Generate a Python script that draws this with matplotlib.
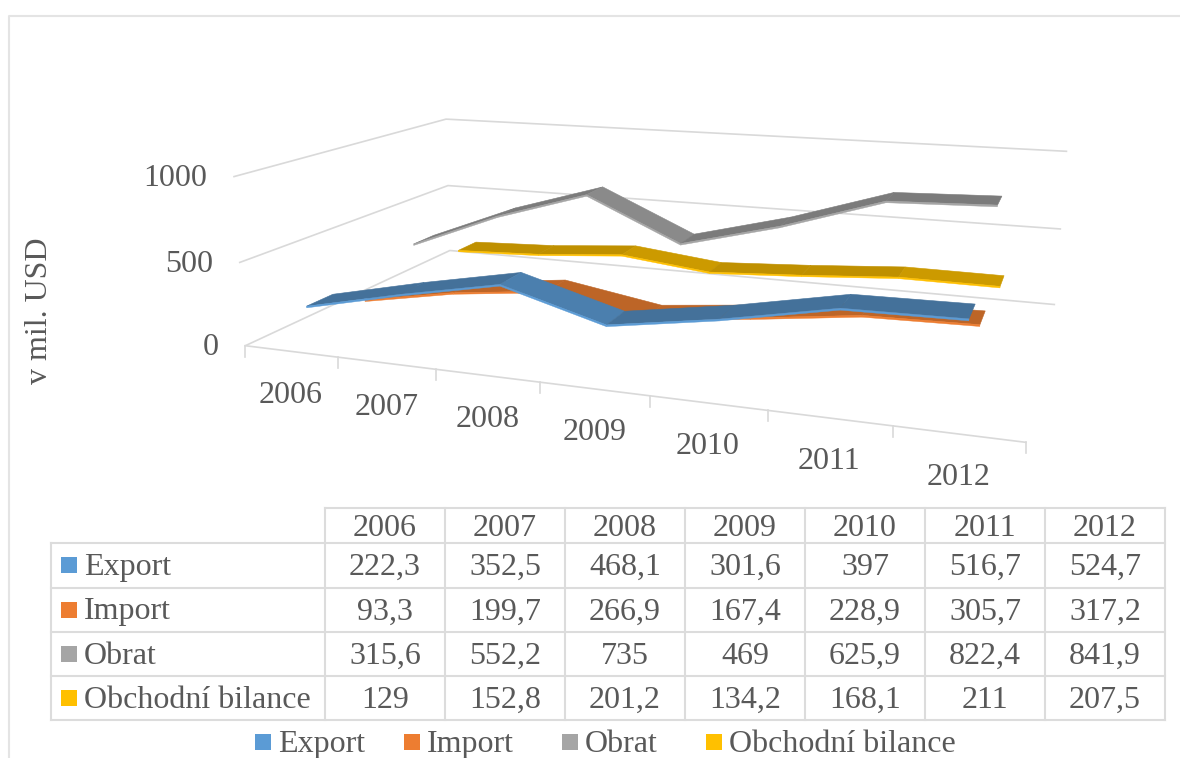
import numpy as np
import matplotlib
matplotlib.use("Agg")
import matplotlib.pyplot as plt
from matplotlib.patches import Polygon, Rectangle

years = [2006, 2007, 2008, 2009, 2010, 2011, 2012]
export = [222.3, 352.5, 468.1, 301.6, 397, 516.7, 524.7]
imports = [93.3, 199.7, 266.9, 167.4, 228.9, 305.7, 317.2]
obrat = [315.6, 552.2, 735, 469, 625.9, 822.4, 841.9]
bilance = [129, 152.8, 201.2, 134.2, 168.1, 211, 207.5]
names = ["Export", "Import", "Obrat", "Obchodní bilance"]
series = [export, imports, obrat, bilance]
y_ticks = [0, 500, 1000]
y_max = 1000

colors = ["#5b9bd5", "#ed7d31", "#a5a5a5", "#ffc000"]
top_dark = ["#44719a", "#bd6527", "#7b7b7b", "#bf9000"]
top_light = ["#4b7fae", "#bd6527", "#8a8a8a", "#cc9a00"]
text_col = "#595959"
grid_col = "#d9d9d9"
fs = 23

plt.rcParams["font.family"] = ["Liberation Serif", "DejaVu Serif"]

# =========================
# 3D PROJECTION (u along years, v depth, w height, all 0..1)
# =========================
anchors = [
    ((0, 0, 0), (247, 346)), ((1, 0, 0), (1026, 442)),
    ((0, 1, 0), (448, 250)), ((1, 1, 0), (1055, 305)),
    ((0, 0, .5), (240, 262)), ((0, 1, .5), (448, 186)),
    ((1, 1, .5), (1060, 229)), ((0, 0, 1), (232, 177)),
    ((0, 1, 1), (448, 119)), ((1, 1, 1), (1066, 151)),
]
A, b = [], []
for (u, v, w), (px, py) in anchors:
    A.append([u, v, w, 1, 0, 0, 0, 0, -px * u, -px * v, -px * w])
    A.append([0, 0, 0, 0, u, v, w, 1, -py * u, -py * v, -py * w])
    b += [px, py]
h = np.linalg.lstsq(np.array(A, float), np.array(b, float), rcond=None)[0]


def proj(u, v, w):
    d = h[8] * u + h[9] * v + h[10] * w + 1
    return ((h[0] * u + h[1] * v + h[2] * w + h[3]) / d,
            (h[4] * u + h[5] * v + h[6] * w + h[7]) / d)


fig = plt.figure(figsize=(11.8, 7.58), dpi=100)
ax = fig.add_axes([0, 0, 1, 1])
ax.set_xlim(0, 1180)
ax.set_ylim(758, 0)
ax.axis("off")

# outer frame
ax.plot([9, 9, 1180], [758, 16, 16], color="#e4e4e4", lw=1.5)

# =========================
# WALLS AND FLOOR
# =========================
for t in y_ticks:
    w = t / y_max
    pts = [proj(0, 0, w), proj(0, 1, w), proj(1, 1, w)]
    ax.plot(*zip(*pts), color=grid_col, lw=1.2, solid_joinstyle="miter")
    x0, y0 = proj(0, 0, w)
    ax.text(x0 - 27, y0 + 2, str(t), ha="right", va="center", fontsize=fs, color=text_col)

ax.plot(*zip(proj(0, 0, 0), proj(1, 0, 0)), color=grid_col, lw=1.2)
n = len(years)
for i in range(n + 1):
    x0, y0 = proj(i / n, 0, 0)
    ax.plot([x0, x0], [y0, y0 + 11], color=grid_col, lw=1.2)
for i, yr in enumerate(years):
    x0, y0 = proj((i + .5) / n, 0, 0)
    ax.text(x0, y0 + 44, str(yr), ha="center", va="center", fontsize=fs, color=text_col)

ax.text(40, 311, "v mil. USD", rotation=90, ha="center", va="center",
        fontsize=fs, color=text_col)

# =========================
# RIBBONS (back to front)
# =========================
half = 0.055
for k in range(len(series) - 1, -1, -1):
    vals = series[k]
    vc = (k + .5) / len(series)
    for i in range(n - 1):
        u0, u1 = (i + .5) / n, (i + 1.5) / n
        w0, w1 = vals[i] / y_max, vals[i + 1] / y_max
        top = top_light[k] if w1 < w0 else top_dark[k]
        quad = [proj(u0, vc - half, w0), proj(u1, vc - half, w1),
                proj(u1, vc + half, w1), proj(u0, vc + half, w0)]
        ax.add_patch(Polygon(quad, closed=True, fc=top, ec=top, lw=.4, zorder=5 + (3 - k)))
        edge = [proj(u0, vc - half, w0), proj(u1, vc - half, w1),
                proj(u1, vc - half, w1 - .01), proj(u0, vc - half, w0 - .01)]
        ax.add_patch(Polygon(edge, closed=True, fc=colors[k], ec=colors[k], lw=.3,
                             zorder=5 + (3 - k)))

# =========================
# DATA TABLE
# =========================
col_x = [51, 325, 445, 565, 685, 805, 925, 1045, 1165]
row_y = [508, 543, 588, 632, 676, 720]
tc = "#dcdcdc"
for x in col_x[1:]:
    ax.plot([x, x], [row_y[0], row_y[-1]], color=tc, lw=1.5)
ax.plot([col_x[0], col_x[0]], [row_y[1], row_y[-1]], color=tc, lw=1.5)
ax.plot([col_x[1], col_x[-1]], [row_y[0], row_y[0]], color=tc, lw=1.5)
for y in row_y[1:]:
    ax.plot([col_x[0], col_x[-1]], [y, y], color=tc, lw=1.5)

for j, yr in enumerate(years):
    ax.text((col_x[j + 1] + col_x[j + 2]) / 2, 536, str(yr),
            ha="center", va="baseline", fontsize=fs, color=text_col)
for k, name in enumerate(names):
    yc = (row_y[k + 1] + row_y[k + 2]) / 2
    ax.add_patch(Rectangle((61, yc - 8.5), 16, 16, fc=colors[k], ec="none"))
    ax.text(84, yc + 9.5, name, ha="left", va="baseline", fontsize=fs, color=text_col)
    for j, v in enumerate(series[k]):
        ax.text((col_x[j + 1] + col_x[j + 2]) / 2, yc + 9.5, f"{v:g}".replace(".", ","),
                ha="center", va="baseline", fontsize=fs, color=text_col)

# =========================
# LEGEND
# =========================
leg_sq = [255, 404, 562, 706]
for k, name in enumerate(names):
    ax.add_patch(Rectangle((leg_sq[k], 734), 16, 16, fc=colors[k], ec="none"))
    ax.text(leg_sq[k] + 23, 752, name, ha="left", va="baseline", fontsize=fs, color=text_col)

fig.savefig("out.png", dpi=100)
plt.close(fig)
